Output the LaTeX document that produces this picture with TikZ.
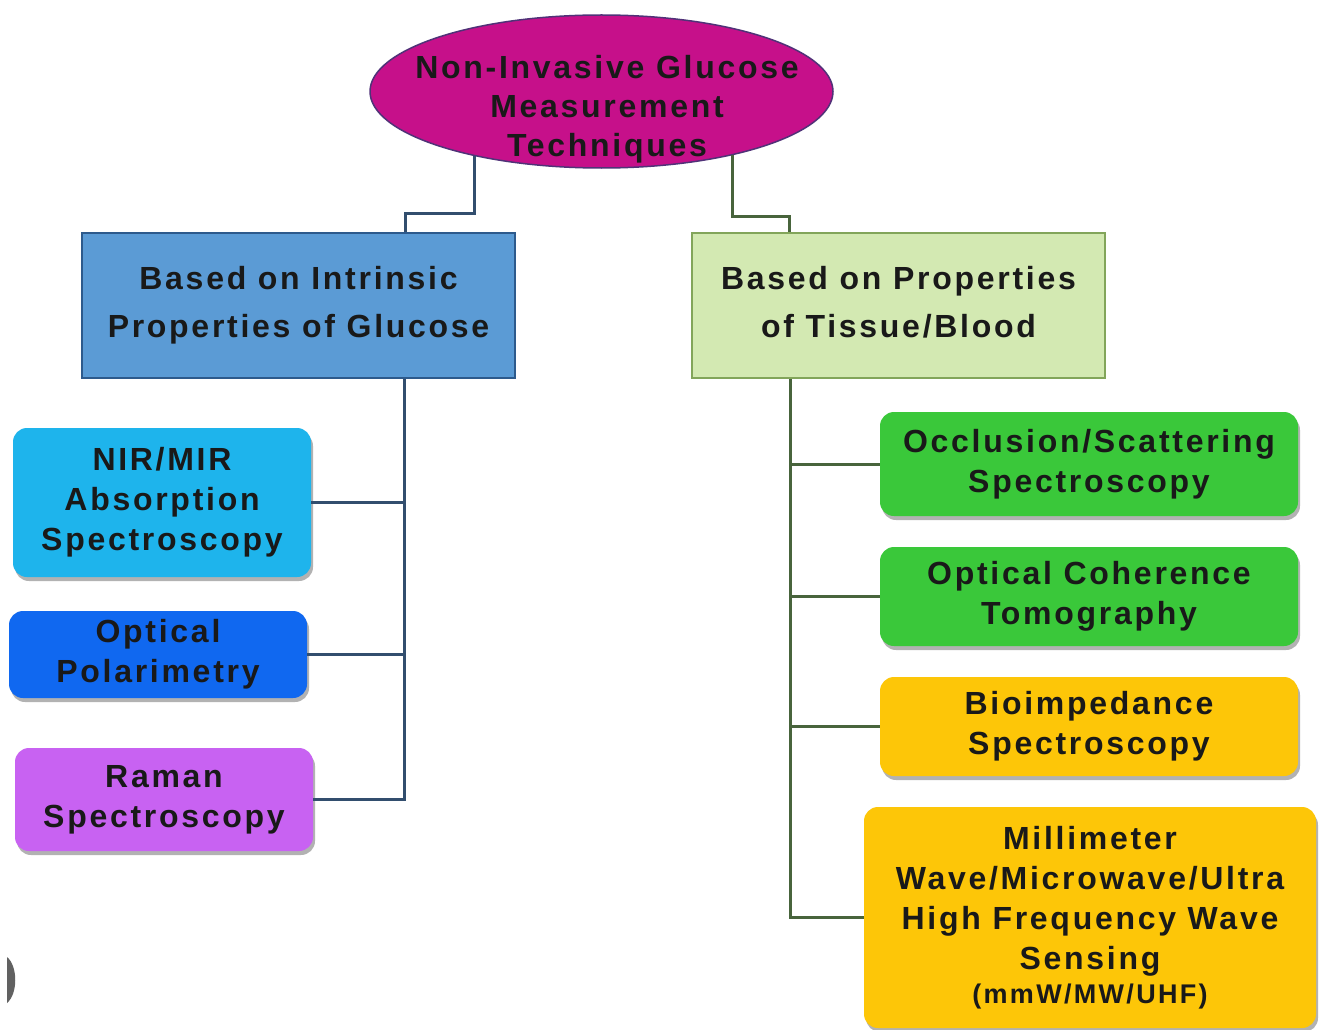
\documentclass[tikz,border=0pt]{standalone}
\usepackage{fontspec}
\setmainfont{Liberation Sans}[LetterSpace=8.5]
\usetikzlibrary{shadows,shapes.geometric,calc}
\definecolor{magfill}{RGB}{198,16,138}
\definecolor{magline}{RGB}{80,50,120}
\definecolor{lboxfill}{RGB}{91,155,213}
\definecolor{lboxline}{RGB}{45,90,140}
\definecolor{rboxfill}{RGB}{211,233,178}
\definecolor{rboxline}{RGB}{130,165,90}
\definecolor{lconncol}{RGB}{50,78,110}
\definecolor{rconncol}{RGB}{72,100,60}
\definecolor{nircol}{RGB}{30,180,236}
\definecolor{optcol}{RGB}{16,104,240}
\definecolor{ramcol}{RGB}{200,98,242}
\definecolor{greencol}{RGB}{58,200,58}
\definecolor{yellowcol}{RGB}{253,198,8}
\begin{document}
\begin{tikzpicture}[x=1pt,y=-1pt,
  lab/.style={font=\bfseries\fontsize{32}{40}\selectfont, align=center, text=black!90},
  topbox/.style={lab, rectangle, inner sep=0pt, line width=2pt, font=\bfseries\fontsize{32}{48}\selectfont},
  leaf/.style={lab, rectangle, rounded corners=14pt, inner sep=0pt,
    drop shadow={shadow xshift=2pt, shadow yshift=-4pt, opacity=0.3, fill=black}},
  lconn/.style={draw=lconncol, line width=3pt},
  rconn/.style={draw=rconncol, line width=3pt}]
\useasboundingbox[fill=white] (0,0) rectangle (1325,1030);

% root
\node[ellipse, fill=magfill, draw=magline, line width=1.5pt, minimum width=463pt, minimum height=153pt, inner sep=0pt] (root) at (601.5,91.5) {};
\node[lab, inner sep=0pt, font=\bfseries\fontsize{32}{39}\selectfont] (roottxt) at (607,109) {Non-Invasive Glucose\\Measurement\\Techniques};

% second level
\node[topbox, fill=lboxfill, draw=lboxline, minimum width=433pt, minimum height=145pt] (lbox) at (298.5,305.5) {Based on Intrinsic\\Properties of Glucose};
\node[topbox, fill=rboxfill, draw=rboxline, minimum width=413pt, minimum height=145pt] (rbox) at (898.5,305.5) {Based on Properties\\of Tissue/Blood\vphantom{y}};

% left leaves
\node[leaf, fill=nircol, minimum width=298pt, minimum height=149pt] (nir) at (162,502.5) {NIR/MIR\\Absorption\\Spectroscopy};
\node[leaf, fill=optcol, minimum width=298pt, minimum height=87pt] (opt) at (158,654.5) {Optical\\Polarimetry};
\node[leaf, fill=ramcol, minimum width=298pt, minimum height=103pt] (ram) at (164,799.5) {Raman\\Spectroscopy};

% right leaves
\node[leaf, fill=greencol, minimum width=418pt, minimum height=104pt] (occ) at (1089,464) {Occlusion/Scattering\\Spectroscopy};
\node[leaf, fill=greencol, minimum width=418pt, minimum height=99pt] (oct) at (1089,596.5) {Optical Coherence\\Tomography};
\node[leaf, fill=yellowcol, minimum width=418pt, minimum height=99pt] (bio) at (1089,726.5) {Bioimpedance\\Spectroscopy};
\node[leaf, fill=yellowcol, minimum width=452pt, minimum height=221pt] (mmw) at (1090,917.5) {Millimeter\\Wave/Microwave/Ultra\\High Frequency Wave\\Sensing\\[-6pt]{\fontsize{27}{30}\selectfont (mmW/MW/UHF)}};

% connectors from root
\draw[lconn] (root.207) -- (root.207 |- 0,213) -| ([xshift=106.5pt]lbox.north);
\draw[rconn] (root.334) -- (root.334 |- 0,216) -| ([xshift=-109.5pt]rbox.north);

% left trunk
\coordinate (ltrunk) at ([xshift=105.5pt]lbox.south);
\draw[lconn] (ltrunk) |- (ram.east);
\draw[lconn] (nir.east) -- (nir.east -| ltrunk);
\draw[lconn] (opt.east) -- (opt.east -| ltrunk);

% right trunk
\coordinate (rtrunk) at ([xshift=-108.5pt]rbox.south);
\draw[rconn] (rtrunk) |- (mmw.west);
\draw[rconn] (occ.west) -- (occ.west -| rtrunk);
\draw[rconn] (oct.west) -- (oct.west -| rtrunk);
\draw[rconn] (bio.west) -- (bio.west -| rtrunk);

% cropped mark at bottom left
\fill[black!62] (7,957) .. controls (18,966) and (18,994) .. (7,1003) -- cycle;
\end{tikzpicture}
\end{document}
